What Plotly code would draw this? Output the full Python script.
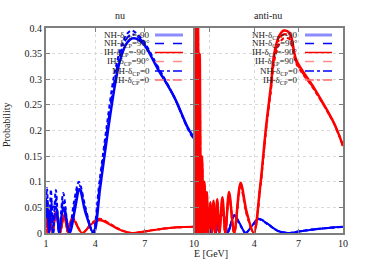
import plotly.graph_objects as go

# ---------------- data ----------------
# nu panel, NH (blue)
nu_nh_m90_E = [1.0, 1.08, 1.2, 1.35, 1.6, 1.8, 2.05, 2.45, 2.75, 3.04, 3.4, 3.9, 4.3, 4.77, 5.2, 5.5, 5.9, 6.3, 6.9, 7.8, 8.8, 9.6, 10.0]
nu_nh_m90_P = [0.03, 0.05, 0.0, 0.05, 0.05, 0.0, 0.05, 0.0, 0.045, 0.086, 0.04, 0.0, 0.09, 0.2, 0.29, 0.337, 0.37, 0.38, 0.37, 0.32, 0.265, 0.207, 0.185]
nu_nh_p90_E = [1.0, 1.06, 1.18, 1.3, 1.42, 1.6, 1.8, 2.05, 2.4, 2.7, 3.0, 3.4, 3.85, 4.25, 4.7, 5.1, 5.45, 5.85, 6.2, 6.8, 7.8, 8.8, 9.6, 10.0]
nu_nh_p90_P = [0.06, 0.088, 0.0, 0.085, 0.0, 0.084, 0.0, 0.078, 0.0, 0.06, 0.1, 0.05, 0.0, 0.1, 0.21, 0.3, 0.35, 0.385, 0.395, 0.38, 0.325, 0.265, 0.205, 0.182]
nu_nh_0_E = [1.0, 1.07, 1.19, 1.32, 1.45, 1.6, 1.8, 2.05, 2.42, 2.72, 3.02, 3.4, 3.87, 4.27, 4.73, 5.15, 5.47, 5.87, 6.25, 6.85, 7.8, 8.8, 9.6, 10.0]
nu_nh_0_P = [0.045, 0.07, 0.0, 0.065, 0.0, 0.066, 0.0, 0.064, 0.0, 0.052, 0.093, 0.045, 0.0, 0.095, 0.205, 0.295, 0.343, 0.378, 0.388, 0.375, 0.322, 0.265, 0.206, 0.184]
# nu panel, IH (red)
nu_ih_m90_E = [1.0, 1.1, 1.2, 1.4, 1.6, 1.85, 2.1, 2.35, 2.6, 3.2, 3.8, 4.27, 4.8, 5.5, 6.2, 7.0, 8.0, 9.0, 10.0]
nu_ih_m90_P = [0.066, 0.0, 0.043, 0.0, 0.039, 0.0, 0.033, 0.0, 0.029, 0.0, 0.018, 0.025, 0.018, 0.006, 0.0, 0.003, 0.008, 0.011, 0.012]
nu_ih_p90_E = [1.0, 1.1, 1.2, 1.4, 1.6, 1.85, 2.1, 2.35, 2.6, 3.2, 3.8, 4.27, 4.8, 5.5, 6.2, 7.0, 8.0, 9.0, 10.0]
nu_ih_p90_P = [0.05, 0.0, 0.045, 0.0, 0.041, 0.0, 0.035, 0.0, 0.032, 0.0, 0.02, 0.028, 0.02, 0.007, 0.0, 0.003, 0.008, 0.011, 0.012]
nu_ih_0_E = [1.0, 1.1, 1.2, 1.4, 1.6, 1.85, 2.1, 2.35, 2.6, 3.2, 3.8, 4.27, 4.8, 5.5, 6.2, 7.0, 8.0, 9.0, 10.0]
nu_ih_0_P = [0.058, 0.0, 0.044, 0.0, 0.04, 0.0, 0.034, 0.0, 0.03, 0.0, 0.019, 0.026, 0.019, 0.006, 0.0, 0.003, 0.008, 0.011, 0.012]

# anti-nu panel, IH (red)
an_ih_m90_E = [0.0, 0.08, 0.14, 0.2, 0.26, 0.32, 0.4, 0.48, 0.56, 0.64, 0.72, 0.8, 0.9, 1.05, 1.15, 1.25, 1.37, 1.5, 1.65, 1.85, 2.05, 2.3, 2.65, 3.08, 3.5, 3.97, 4.4, 4.8, 5.14, 5.35, 5.7, 6.0, 6.4, 6.85, 8.0, 9.4, 10.0]
an_ih_m90_P = [0.0, 0.42, 0.0, 0.42, 0.0, 0.35, 0.0, 0.15, 0.0, 0.1, 0.0, 0.08, 0.0, 0.06, 0.0, 0.063, 0.0, 0.066, 0.0, 0.07, 0.0, 0.08, 0.0, 0.098, 0.04, 0.0, 0.09, 0.207, 0.29, 0.35, 0.385, 0.395, 0.39, 0.337, 0.285, 0.214, 0.17]
an_ih_p90_E = an_ih_m90_E
an_ih_p90_P = [0.0, 0.4, 0.0, 0.4, 0.0, 0.3, 0.0, 0.13, 0.0, 0.09, 0.0, 0.07, 0.0, 0.052, 0.0, 0.055, 0.0, 0.058, 0.0, 0.062, 0.0, 0.072, 0.0, 0.09, 0.035, 0.0, 0.085, 0.2, 0.28, 0.335, 0.37, 0.38, 0.378, 0.33, 0.282, 0.213, 0.17]
an_ih_0_E = an_ih_m90_E
an_ih_0_P = [0.0, 0.41, 0.0, 0.41, 0.0, 0.32, 0.0, 0.14, 0.0, 0.095, 0.0, 0.075, 0.0, 0.056, 0.0, 0.059, 0.0, 0.062, 0.0, 0.066, 0.0, 0.076, 0.0, 0.094, 0.037, 0.0, 0.087, 0.203, 0.285, 0.342, 0.378, 0.388, 0.384, 0.333, 0.283, 0.213, 0.17]
# anti-nu panel, NH (blue)
an_nh_m90_E = [0.35, 0.45, 0.55, 0.65, 0.75, 0.9, 1.05, 1.2, 1.4, 1.6, 1.9, 2.2, 2.65, 3.0, 3.42, 3.8, 4.3, 4.9, 5.6, 6.3, 7.0, 8.0, 9.0, 10.0]
an_nh_m90_P = [0.0, 0.06, 0.0, 0.05, 0.0, 0.04, 0.0, 0.03, 0.0, 0.028, 0.035, 0.0, 0.035, 0.02, 0.0, 0.012, 0.028, 0.018, 0.004, 0.0, 0.003, 0.007, 0.01, 0.012]
an_nh_p90_E = an_nh_m90_E
an_nh_p90_P = [0.0, 0.068, 0.0, 0.055, 0.0, 0.045, 0.0, 0.035, 0.0, 0.03, 0.037, 0.0, 0.033, 0.018, 0.0, 0.011, 0.027, 0.017, 0.004, 0.0, 0.003, 0.007, 0.01, 0.012]
an_nh_0_E = an_nh_m90_E
an_nh_0_P = [0.0, 0.064, 0.0, 0.052, 0.0, 0.042, 0.0, 0.032, 0.0, 0.029, 0.036, 0.0, 0.034, 0.019, 0.0, 0.012, 0.028, 0.018, 0.004, 0.0, 0.003, 0.007, 0.01, 0.012]

y_ticks = [0, 0.05, 0.1, 0.15, 0.2, 0.25, 0.3, 0.35, 0.4]
y_tick_text = ["0", "0.05", "0.1", "0.15", "0.2", "0.25", "0.3", "0.35", "0.4"]
x_ticks = [1, 4, 7, 10]
left_x_text = ["1", "4", "7", "10"]
right_x_text = ["", "4", "7", "10"]

legend_labels = ["NH-δ<sub>CP</sub>=-90", "NH-δ<sub>CP</sub>=90°", "IH-δ<sub>CP</sub>=-90°",
                 "IH-δ<sub>CP</sub>=90°", "NH-δ<sub>CP</sub>=0", "IH-δ<sub>CP</sub>=0"]

# ---------------- styles ----------------
BLUE = "#0000ff"
RED = "#ff0000"
FONT = "Liberation Serif, Times New Roman, serif"
BORDER = "#7f7f7f"

W, H = 374, 262
def fx(px):
    return px / W
def fy(py):
    return 1 - py / H

fig = go.Figure()

def add(E, P, color, dash, xa, ya, width=2.0):
    fig.add_trace(go.Scatter(x=E, y=P, mode="lines", xaxis=xa, yaxis=ya,
                             line=dict(color=color, dash=dash, width=width, shape="spline", smoothing=0.9),
                             showlegend=False, hoverinfo="skip"))

DASH = "4px,3px"
DASHDOT = "8px,3px,2px,3px"

# left panel
add(nu_ih_0_E, nu_ih_0_P, RED, DASHDOT, "x", "y")
add(nu_ih_p90_E, nu_ih_p90_P, RED, DASH, "x", "y")
add(nu_ih_m90_E, nu_ih_m90_P, RED, "solid", "x", "y")
add(nu_nh_0_E, nu_nh_0_P, BLUE, DASHDOT, "x", "y")
add(nu_nh_p90_E, nu_nh_p90_P, BLUE, DASH, "x", "y")
add(nu_nh_m90_E, nu_nh_m90_P, BLUE, "solid", "x", "y", 2.5)
# right panel
add(an_nh_0_E, an_nh_0_P, BLUE, DASHDOT, "x2", "y2")
add(an_nh_p90_E, an_nh_p90_P, BLUE, DASH, "x2", "y2")
add(an_nh_m90_E, an_nh_m90_P, BLUE, "solid", "x2", "y2")
add(an_ih_0_E, an_ih_0_P, RED, DASHDOT, "x2", "y2")
add(an_ih_p90_E, an_ih_p90_P, RED, DASH, "x2", "y2")
add(an_ih_m90_E, an_ih_m90_P, RED, "solid", "x2", "y2", 2.5)

axis_common = dict(showline=True, mirror="ticks", linecolor=BORDER, linewidth=2,
                   ticks="inside", ticklen=4, tickcolor=BORDER, tickwidth=1,
                   showgrid=True, gridcolor="#d9d9d9", griddash="dot", gridwidth=1,
                   zeroline=False, automargin=False,
                   tickfont=dict(family=FONT, size=10, color="#222"))

y_dom = [fy(233), fy(28)]
fig.update_layout(
    width=W, height=H, margin=dict(l=0, r=0, t=0, b=0, autoexpand=False),
    paper_bgcolor="white", plot_bgcolor="white", showlegend=False,
    xaxis=dict(domain=[fx(46), fx(194)], range=[1, 10], tickvals=x_ticks, ticktext=left_x_text,
               anchor="y", **axis_common),
    yaxis=dict(domain=y_dom, range=[0, 0.4], tickvals=y_ticks, ticktext=y_tick_text,
               anchor="x", **axis_common),
    xaxis2=dict(domain=[fx(195), fx(343)], range=[0, 10], tickvals=x_ticks, ticktext=right_x_text,
                anchor="y2", **axis_common),
    yaxis2=dict(domain=y_dom, range=[0, 0.4], tickvals=y_ticks, ticktext=[""] * len(y_ticks),
                anchor="x2", **axis_common),
)

def label(text, px, py, angle=0):
    return dict(text=text, x=fx(px), y=fy(py), xref="paper", yref="paper", showarrow=False,
                xanchor="center", yanchor="middle", textangle=angle,
                font=dict(family=FONT, size=10, color="#222"))

ann = [label("nu", 120, 15), label("anti-nu", 268, 15), label("E [GeV]", 211, 253),
       label("Probability", 6, 125, -90)]

# manual legends (text right-aligned, sample to the right) for both panels
leg_rows = [35, 43.5, 52.5, 61.5, 71, 80]
leg_styles = [("#8c8cff", "solid", 3), (BLUE, "dash", 1.5), (RED, "solid", 1.5),
              ("#ff8c8c", "dash", 1.5), (BLUE, "dashdot", 1.5), ("#ff6a6a", "dashdot", 1.5)]
shapes = []
for text_right, s0, s1 in [(152, 155, 183), (300, 305, 332)]:
    for row, lab, (col, dsh, wd) in zip(leg_rows, legend_labels, leg_styles):
        ann.append(dict(text=lab, x=fx(text_right), y=fy(row), xref="paper", yref="paper",
                        xanchor="right", yanchor="middle", showarrow=False,
                        font=dict(family=FONT, size=9, color="#222")))
        shapes.append(dict(type="line", xref="paper", yref="paper", x0=fx(s0), x1=fx(s1),
                           y0=fy(row), y1=fy(row), line=dict(color=col, dash=dsh, width=wd)))

fig.update_layout(annotations=ann, shapes=shapes)
fig.write_html("out.html", config={"displayModeBar": False, "staticPlot": True},
               post_script="document.body.style.margin='0';document.body.style.overflow='hidden';")
